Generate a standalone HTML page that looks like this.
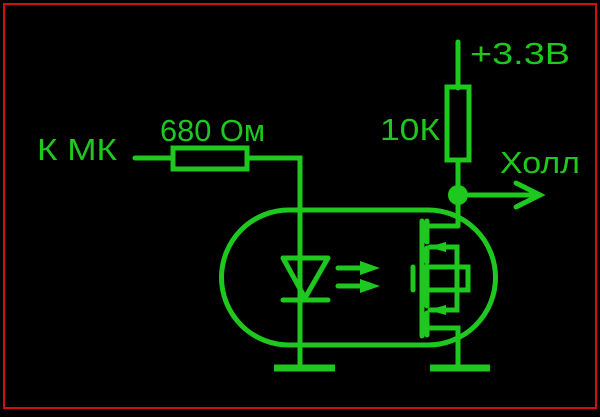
<!DOCTYPE html>
<html><head><meta charset="utf-8"><style>html,body{margin:0;padding:0;background:#000}</style></head><body>
<svg width="600" height="412" viewBox="0 0 600 412" xmlns="http://www.w3.org/2000/svg">
<rect x="0" y="0" width="600" height="412" fill="#000"/>
<rect x="4" y="4" width="592" height="404" fill="none" stroke="#d01010" stroke-width="2"/>
<g stroke="#1ec81e" stroke-width="5" fill="none" stroke-linecap="round">
<line x1="135" y1="158" x2="172" y2="158"/>
<rect x="173" y="148" width="74" height="21"/>
<polyline points="248,158 300,158 300,366"/>
<line x1="274" y1="368" x2="335" y2="368" stroke-width="7" stroke-linecap="butt"/>
<path d="M289,210 H428 A67.5,67.5 0 0 1 428,345 H289 A67.5,67.5 0 0 1 289,210 Z"/>
<polygon points="283,258 328,258 305,298" stroke-linejoin="round"/>
<line x1="283" y1="300" x2="328" y2="300"/>
<line x1="338" y1="268" x2="365" y2="268"/>
<line x1="338" y1="286" x2="365" y2="286"/>
<line x1="458" y1="42" x2="458" y2="88"/>
<rect x="447" y="87" width="22" height="73"/>
<line x1="458" y1="160" x2="458" y2="226"/>
<line x1="458" y1="195" x2="540" y2="195"/>
<polyline points="516,183 540,195 516,207"/>
<line x1="422" y1="221" x2="422" y2="336"/>
<line x1="427" y1="221" x2="427" y2="242"/>
<line x1="427" y1="248" x2="427" y2="262"/>
<line x1="427" y1="266" x2="427" y2="287"/>
<line x1="427" y1="292" x2="427" y2="306"/>
<line x1="427" y1="313" x2="427" y2="335"/>
<polyline points="427,226 458,226"/>
<polyline points="430,247 457,247 457,310 430,310"/>
<polyline points="422,267 468,267 468,290 422,290"/>
<polyline points="413,267 413,290"/>
<polyline points="427,328 458,328 458,366"/>
<line x1="430" y1="368" x2="490" y2="368" stroke-width="7" stroke-linecap="butt"/>
</g>
<g fill="#1ec81e">
<polygon points="360,261 380,268 360,275"/>
<polygon points="360,279 380,286 360,293"/>
<polygon points="428,247 446,242 446,252"/>
<polygon points="428,310 446,305 446,315"/>
<circle cx="458" cy="195" r="10"/>
</g>
<g fill="#1ec81e" font-family="'Liberation Sans', sans-serif" font-size="31">
<text x="37" y="160" textLength="80" lengthAdjust="spacingAndGlyphs">К МК</text>
<text x="160" y="141" textLength="105" lengthAdjust="spacingAndGlyphs">680 Ом</text>
<text x="380" y="140" textLength="60" lengthAdjust="spacingAndGlyphs">10К</text>
<text x="470" y="64" textLength="100" lengthAdjust="spacingAndGlyphs">+3.3В</text>
<text x="500" y="173" textLength="80" lengthAdjust="spacingAndGlyphs">Холл</text>
</g>
</svg>
</body></html>
